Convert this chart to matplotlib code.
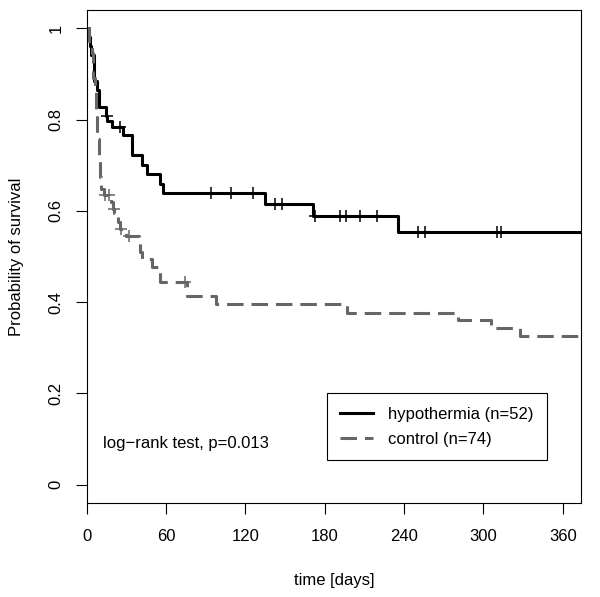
import numpy as np
import matplotlib.pyplot as plt

plt.rcParams['font.family'] = ['Liberation Sans', 'DejaVu Sans']
plt.rcParams['font.size'] = 12

# Kaplan-Meier step estimates
hypo_time = [0, 1.5, 2.5, 3.2, 5.5, 8, 9.5, 14.3, 15.6, 19.4, 27.7, 34.5, 42, 45.8,
             55.3, 57.9, 135, 171, 235.7, 374]
hypo_surv = [1.0, 0.981, 0.962, 0.942, 0.885, 0.865, 0.827, 0.808, 0.798, 0.784, 0.766,
             0.722, 0.700, 0.681, 0.660, 0.639, 0.615, 0.589, 0.553, 0.553]
hypo_cens = [15, 25, 94, 109, 126, 142, 148, 172.8, 191.7, 196, 206.8, 219.4,
             250.3, 255.8, 310, 313]

ctrl_time = [0, 2, 4, 5, 6, 7, 8, 9, 10, 11, 13, 18, 20, 21, 24, 25, 30, 39.5, 40, 42,
             49.6, 55.8, 76, 97.4, 197, 281, 306, 327.5, 374]
ctrl_surv = [1.0, 0.973, 0.946, 0.892, 0.865, 0.810, 0.757, 0.716, 0.675, 0.648, 0.635,
             0.620, 0.605, 0.590, 0.575, 0.560, 0.545, 0.529, 0.511, 0.494, 0.478, 0.445,
             0.413, 0.395, 0.376, 0.360, 0.343, 0.325, 0.325]
ctrl_cens = [14, 17, 20.6, 25.7, 32, 74.7]

labels = ['hypothermia (n=52)', 'control (n=74)']
xticks = [0, 60, 120, 180, 240, 300, 360]
yticks = [0, 0.2, 0.4, 0.6, 0.8, 1]
ytick_labels = ['0', '0.2', '0.4', '0.6', '0.8', '1']


def surv_at(times, surv, t):
    idx = np.searchsorted(times, t, side='right') - 1
    return np.asarray(surv)[idx]


fig = plt.figure(figsize=(6, 5.97), dpi=100)
ax = fig.add_axes([0.1445, 0.1575, 0.8235, 0.8255])

gray = '#666666'
ax.step(hypo_time, hypo_surv, where='post', color='black', lw=2.2, label=labels[0])
ax.step(ctrl_time, ctrl_surv, where='post', color=gray, lw=2.2, dashes=(5.4, 2.6),
        label=labels[1])
ax.plot(hypo_cens, surv_at(hypo_time, hypo_surv, hypo_cens), ls='none', marker='+',
        ms=9, mew=1.1, color='black')
ax.plot(ctrl_cens, surv_at(ctrl_time, ctrl_surv, ctrl_cens), ls='none', marker='+',
        ms=9, mew=1.1, color=gray)

ax.set_xlim(0, 373.6)
ax.set_ylim(-0.04, 1.04)
ax.set_xticks(xticks)
ax.set_yticks(yticks)
ax.set_yticklabels(ytick_labels, rotation=90, va='center')
ax.tick_params(length=7.7, width=0.8, pad=11)
ax.tick_params(axis='y', pad=9)
for s in ax.spines.values():
    s.set_linewidth(0.8)

ax.set_xlabel('time [days]', labelpad=21)
ax.set_ylabel('Probability of survival', labelpad=18)

ax.text(0.034, 0.12, 'log\u2212rank test, p=0.013', transform=ax.transAxes,
        va='center', ha='left')

leg = ax.legend(loc='upper left', bbox_to_anchor=(0.4855, 0.2225), fancybox=False,
                edgecolor='black', framealpha=1, borderpad=0.8, handlelength=2.0,
                handletextpad=0.9, labelspacing=0.62, borderaxespad=0)
leg.get_frame().set_linewidth(0.8)

fig.savefig('out.png', dpi=100)
